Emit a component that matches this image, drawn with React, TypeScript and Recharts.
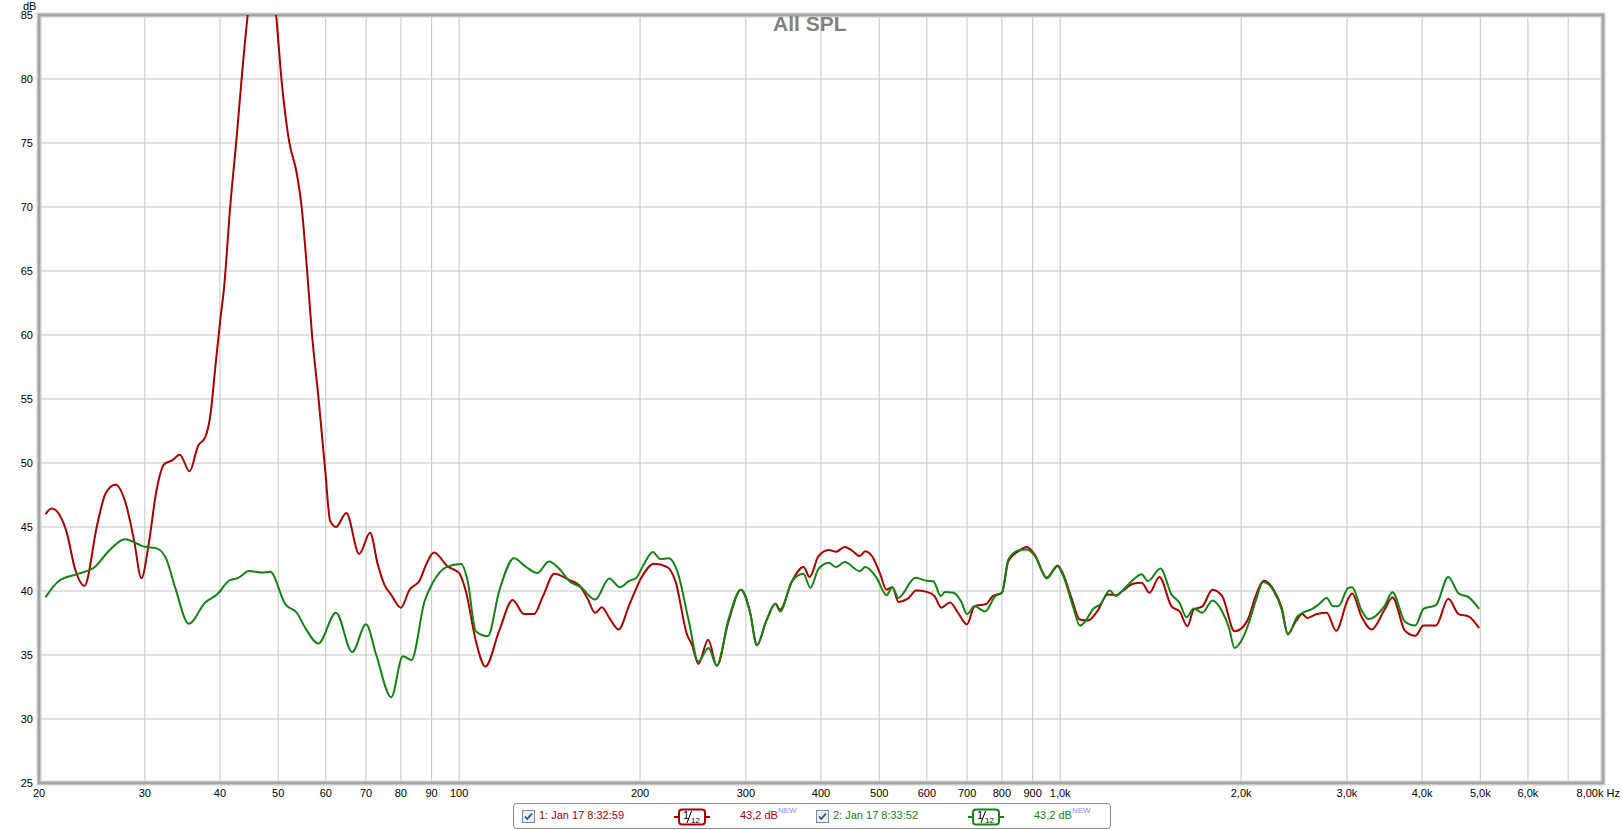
import React from "react";
import { LineChart, Line, XAxis, YAxis, CartesianGrid, ReferenceArea } from "recharts";

const FONT = "'Liberation Sans', Arial, sans-serif";

// axis ticks
const xTicks = [20, 30, 40, 50, 60, 70, 80, 90, 100, 200, 300, 400, 500, 600, 700, 800, 900, 1000, 2000, 3000, 4000, 5000, 6000, 7000, 8000];
const xTickLabels = ["20", "30", "40", "50", "60", "70", "80", "90", "100", "200", "300", "400", "500", "600", "700", "800", "900", "1,0k", "2,0k", "3,0k", "4,0k", "5,0k", "6,0k", "", "8,00k Hz"];
const yTicks = [25, 30, 35, 40, 45, 50, 55, 60, 65, 70, 75, 80, 85];

// measurement 1 (red)
const redFreq = [
  20.5, 21.0, 22.2, 23.0, 23.8, 25.0, 25.8, 26.8, 27.9, 28.8, 29.6, 30.5, 31.3, 32.3, 33.3, 34.3, 35.6, 36.8, 37.8, 38.6,
  39.3, 40.1, 40.6, 41.6, 42.7, 43.5, 44.5, 46.0, 47.2, 48.5, 49.6, 50.7, 52.1, 53.7, 54.7, 55.8, 56.9, 58.4, 59.9, 61.0,
  62.4, 64.9, 68.2, 71.1, 73.2, 75.1, 77.1, 80.0, 82.7, 85.9, 88.6, 90.8, 95.8, 100, 102.6, 106.6, 110.6, 116.6, 122.8, 128.2,
  133.3, 137.6, 144, 152.6, 158.4, 163.4, 168.4, 172.8, 177.8, 184.2, 192, 200.8, 211, 222, 229, 239.4, 244, 250, 259.6, 268.4,
  280.6, 294.4, 304.6, 313, 324, 336, 342, 358, 374, 383, 396, 412, 424, 438, 450, 464, 474, 490, 502, 514,
  526, 538, 558, 576, 600, 618, 634, 656, 676, 700, 720, 754, 772, 800, 820, 852, 880, 908, 950, 990,
  1012, 1044, 1078, 1112, 1152, 1200, 1238, 1270, 1322, 1366, 1408, 1462, 1532, 1580, 1628, 1668, 1724, 1792, 1860, 1950,
  2000, 2060, 2114, 2184, 2266, 2336, 2392, 2464, 2528, 2576, 2674, 2776, 2878, 3010, 3060, 3172, 3300, 3460, 3572, 3746,
  3898, 4022, 4218, 4422, 4602, 4786, 4978,
];
const redSpl = [
  46.0, 46.45, 44.7, 41.6, 40.4, 45.2, 47.6, 48.3, 46.8, 43.9, 41.0, 43.9, 47.6, 49.9, 50.2, 50.65, 49.35, 51.36, 52.0, 53.9,
  57.5, 61.4, 63.5, 70.0, 75.75, 80.2, 85.0, 89.0, 90.5, 89.0, 85.0, 79.7, 75.2, 72.6, 70.0, 65.3, 60.1, 54.9, 49.3, 45.5,
  45.0, 46.1, 42.9, 44.55, 42.1, 40.5, 39.7, 38.7, 40.1, 40.8, 42.3, 43.0, 41.9, 41.4, 40.0, 36.1, 34.1, 36.9, 39.3, 38.2,
  38.2, 39.5, 41.35, 40.85, 40.45, 39.46, 38.3, 38.73, 37.9, 37.0, 38.94, 41.0, 42.13, 41.87, 40.77, 36.6, 35.8, 34.3, 36.2, 34.16,
  37.6, 40.1, 38.4, 35.76, 37.6, 39.0, 38.55, 40.77, 41.87, 41.1, 42.7, 43.2, 43.07, 43.43, 43.17, 42.73, 43.1, 42.47, 41.3, 40.1,
  40.3, 39.15, 39.4, 40.04, 39.93, 39.6, 38.7, 39.1, 38.3, 37.4, 38.8, 39.0, 39.6, 39.86, 42.34, 43.1, 43.43, 42.8, 41.03, 42.0,
  41.3, 39.46, 37.77, 37.7, 38.4, 39.73, 39.67, 40.0, 40.56, 40.64, 39.86, 41.1, 38.8, 38.4, 37.25, 38.55, 38.8, 40.1, 39.6, 36.85,
  37.06, 37.95, 39.6, 40.8, 40.1, 38.7, 36.65, 37.6, 38.2, 37.9, 38.2, 38.3, 36.9, 39.33, 39.8, 38.0, 37.0, 38.5, 39.5, 36.9,
  36.5, 37.3, 37.3, 39.4, 38.2, 38.0, 37.1,
];

// measurement 2 (green)
const greenFreq = [
  20.5, 21.6, 23.3, 24.8, 26.1, 27.8, 30.0, 31.3, 32.5, 33.7, 35.5, 37.8, 39.6, 41.4, 43.0, 44.7, 47.0, 48.5, 51.4, 53.7,
  55.5, 58.3, 62.4, 66.4, 70, 72.8, 77.1, 80.6, 83.3, 87.6, 90.3, 95.2, 100.8, 103.3, 106.6, 111.6, 116.6, 123.4, 129, 135,
  141, 146.6, 152.6, 159.4, 168.4, 177.8, 185.2, 192, 196.8, 203.2, 210, 216, 223.4, 230.6, 241.2, 250, 260, 268.4, 280.6, 294.4,
  304.6, 313, 324, 336, 342, 358, 374, 384, 396, 412, 424, 438, 464, 474, 495, 514, 526, 538, 574, 600,
  615, 633, 643, 664, 684, 700, 720, 750, 780, 800, 820, 852, 880, 908, 950, 990, 1012, 1052, 1078, 1100,
  1132, 1168, 1208, 1238, 1270, 1330, 1366, 1400, 1468, 1532, 1580, 1622, 1668, 1724, 1792, 1860, 1910, 1950, 2000, 2060,
  2114, 2176, 2266, 2336, 2392, 2480, 2552, 2614, 2690, 2776, 2844, 2900, 3010, 3060, 3172, 3260, 3460, 3572, 3746, 3898,
  4022, 4218, 4422, 4602, 4786, 4978,
];
const greenSpl = [
  39.5, 40.8, 41.36, 41.9, 43.1, 44.05, 43.45, 43.35, 42.6, 40.26, 37.44, 39.1, 39.74, 40.8, 41.04, 41.57, 41.44, 41.5, 38.96, 38.3,
  37.1, 35.9, 38.3, 35.23, 37.4, 35.0, 31.7, 34.9, 34.6, 39.2, 40.6, 41.87, 42.1, 40.8, 36.85, 36.46, 40.0, 42.55, 41.9, 41.4,
  42.3, 41.76, 40.77, 40.3, 39.33, 40.98, 40.3, 40.8, 41.0, 42.13, 43.04, 42.5, 42.55, 41.55, 37.6, 34.5, 35.55, 34.16, 37.77, 40.1,
  38.4, 35.76, 37.6, 39.0, 38.4, 40.77, 41.35, 40.25, 41.7, 42.2, 41.87, 42.26, 41.55, 41.87, 41.03, 39.67, 40.3, 39.46, 41.03, 40.8,
  40.77, 39.6, 39.93, 39.86, 39.2, 38.2, 38.8, 38.4, 39.6, 39.86, 42.47, 43.17, 43.25, 42.73, 40.98, 41.94, 41.16, 38.68, 37.3, 37.6,
  38.55, 39.0, 40.04, 39.6, 40.04, 40.98, 41.3, 40.77, 41.76, 39.73, 39.07, 37.95, 38.63, 38.3, 39.26, 38.4, 37.1, 35.55, 36.07, 37.5,
  39.2, 40.7, 40.0, 38.55, 36.6, 38.0, 38.37, 38.55, 38.94, 39.46, 38.8, 38.8, 40.2, 40.3, 38.5, 37.8, 38.8, 39.9, 37.6, 37.3,
  38.6, 38.9, 41.1, 39.8, 39.5, 38.6,
];

const redData = redFreq.map((f, i) => ({ f, spl: redSpl[i] }));
const greenData = greenFreq.map((f, i) => ({ f, spl: greenSpl[i] }));

const legendItems = [
  { name: "1: Jan 17 8:32:59", level: "43,2 dB", color: "#a80000", left: 8 },
  { name: "2: Jan 17 8:33:52", level: "43,2 dB", color: "#148214", left: 302 },
];

const XTick = (props: any) => {
  const { x, y, payload } = props;
  const i = xTicks.indexOf(payload.value);
  const label = i >= 0 ? xTickLabels[i] : "";
  const last = payload.value === 8000;
  return (
    <text
      x={last ? x + 17 : x}
      y={y}
      dy="0.71em"
      textAnchor={last ? "end" : "middle"}
      fontSize={11}
      fontFamily={FONT}
      fill="#000"
    >
      {label}
    </text>
  );
};

const CheckBox = () => (
  <svg width={13} height={13} style={{ position: "absolute", top: 6 }}>
    <rect x={0.5} y={0.5} width={12} height={12} fill="#e8eef6" stroke="#6f8cab" />
    <path d="M3 6.5 L5.3 9 L10 3.5" fill="none" stroke="#2b4f8c" strokeWidth={1.8} />
  </svg>
);

const SmoothIcon = ({ color }: { color: string }) => (
  <svg width={36} height={18} style={{ position: "absolute", top: 4 }}>
    <line x1={0} y1={9} x2={36} y2={9} stroke={color} strokeWidth={2} />
    <rect x={5} y={1.5} width={26} height={15} rx={3} fill="#fff" stroke={color} strokeWidth={2} />
    <text x={9} y={11} fontSize={11} fontFamily={FONT} fill="#000">1</text>
    <line x1={13} y1={15} x2={17.5} y2={3} stroke="#000" strokeWidth={1} />
    <text x={17} y={15} fontSize={8} fontFamily={FONT} fill="#000">12</text>
  </svg>
);

export default function App() {
  return (
    <div style={{ position: "absolute", left: 0, top: 0, width: 1622, height: 830, background: "#fff", fontFamily: FONT }}>
      <LineChart width={1622} height={830} margin={{ top: 15, right: 19, bottom: 17, left: 4 }}>
        <CartesianGrid stroke="#c4c4c4" strokeWidth={1} />
        <XAxis
          dataKey="f"
          type="number"
          scale="log"
          domain={[20, 8000]}
          ticks={xTicks}
          allowDataOverflow
          height={30}
          tickLine={false}
          axisLine={false}
          tickSize={4}
          tickMargin={2}
          interval={0}
          tick={<XTick />}
        />
        <YAxis
          type="number"
          domain={[25, 85]}
          ticks={yTicks}
          allowDataOverflow
          width={35}
          tickLine={false}
          axisLine={false}
          tickSize={4}
          tickMargin={2}
          interval={0}
          tick={{ fontSize: 11, fill: "#000", fontFamily: FONT }}
        />
        <Line data={redData} dataKey="spl" type="monotone" stroke="#a80000" strokeWidth={2} dot={false} activeDot={false} isAnimationActive={false} />
        <Line data={greenData} dataKey="spl" type="monotone" stroke="#148214" strokeWidth={2} dot={false} activeDot={false} isAnimationActive={false} />
        <ReferenceArea x1={20} x2={8000} y1={25} y2={85} fill="none" stroke="#d2d2d2" strokeWidth={5} />
        <ReferenceArea x1={20} x2={8000} y1={25} y2={85} fill="none" stroke="#a4a4a4" strokeWidth={2.5} />
      </LineChart>

      <div style={{ position: "absolute", left: 23, top: 0, fontSize: 11, color: "#000" }}>dB</div>
      <div style={{ position: "absolute", left: 773, top: 12, fontSize: 21, fontWeight: "bold", color: "#808080" }}>All SPL</div>

      <div
        style={{
          position: "absolute",
          left: 513,
          top: 803,
          width: 596,
          height: 24,
          border: "1px solid #8c8c8c",
          borderRadius: 4,
          background: "#fff",
          fontSize: 11,
        }}
      >
        {legendItems.map((it) => (
          <React.Fragment key={it.name}>
            <div style={{ position: "absolute", left: it.left }}>
              <CheckBox />
            </div>
            <div style={{ position: "absolute", left: it.left + 17, top: 5, color: it.color, whiteSpace: "nowrap" }}>{it.name}</div>
            <div style={{ position: "absolute", left: it.left + 152 }}>
              <SmoothIcon color={it.color} />
            </div>
            <div style={{ position: "absolute", left: it.left + 218, top: 5, color: it.color, whiteSpace: "nowrap" }}>
              {it.level}
              <sup style={{ fontSize: 8, color: "#8a8af0", verticalAlign: "top", position: "relative", top: -3 }}>NEW</sup>
            </div>
          </React.Fragment>
        ))}
      </div>
    </div>
  );
}
